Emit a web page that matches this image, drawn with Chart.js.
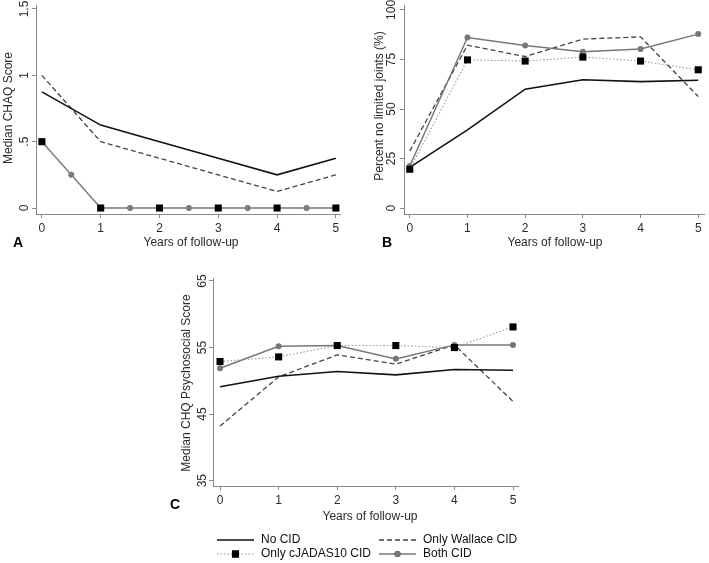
<!DOCTYPE html>
<html>
<head>
<meta charset="utf-8">
<script src="https://cdn.jsdelivr.net/npm/chart.js@4.4.1/dist/chart.umd.min.js"></script>
<style>
  body { margin: 0; background: #fff; }
  #wrap { position: relative; width: 709px; height: 563px; }
  canvas { position: absolute; }
</style>
</head>
<body>
<div id="wrap">
  <canvas id="chartA" width="345" height="255" style="left:0px;top:0px"></canvas>
  <canvas id="chartB" width="354" height="255" style="left:355px;top:0px"></canvas>
  <canvas id="chartC" width="400" height="305" style="left:150px;top:258px"></canvas>
</div>
<script>
// years of follow-up
const years = [0, 1, 2, 3, 4, 5];
const halfYears = [0, 0.5, 1, 1.5, 2, 2.5, 3, 3.5, 4, 4.5, 5];
const seriesNames = ["No CID", "Only Wallace CID", "Only cJADAS10 CID", "Both CID"];

// A: median CHAQ score
const chaqNoCid = [0.875, 0.625, 0.5, 0.375, 0.25, 0.375];
const chaqWallace = [1.0, 0.5, 0.375, 0.25, 0.125, 0.25];
const chaqJadas = [0.5, 0, 0, 0, 0, 0];
const chaqBoth = [0.5, 0.25, 0, 0, 0, 0, 0, 0, 0, 0, 0]; // half-yearly
const chaqTicks = [0, 0.5, 1, 1.5];
const chaqTickLabels = ["0", ".5", "1", "1.5"];

// B: percent no limited joints
const jointsNoCid = [20.5, 39.5, 60.0, 64.8, 63.8, 64.5];
const jointsWallace = [28.8, 82.2, 76.5, 85.3, 86.4, 56.3];
const jointsJadas = [19.6, 74.8, 74.2, 76.2, 74.2, 69.8];
const jointsBoth = [21.2, 86.1, 82.1, 78.9, 80.3, 87.8];
const jointsTicks = [0, 25, 50, 75, 100];
const jointsTickLabels = ["0", "25", "50", "75", "100"];

// C: median CHQ psychosocial score
const chqNoCid = [49.1, 50.7, 51.4, 50.9, 51.7, 51.6];
const chqWallace = [43.2, 50.6, 53.9, 52.5, 55.4, 46.9];
const chqJadas = [52.9, 53.6, 55.3, 55.3, 55.0, 58.1];
const chqBoth = [51.9, 55.2, 55.3, 53.3, 55.4, 55.4];
const chqTicks = [35, 45, 55, 65];
const chqTickLabels = ["35", "45", "55", "65"];

Chart.defaults.font.family = "'Liberation Sans', Arial, sans-serif";
Chart.defaults.font.size = 12;
Chart.defaults.color = "#2a2a2a";

const axisGray = "#8a8a8a";

const styles = [
  { borderColor: "#111", borderWidth: 1.6, pointRadius: 0, order: 2 },
  { borderColor: "#444", borderWidth: 1.3, borderDash: [5, 3], pointRadius: 0, order: 3 },
  { borderColor: "#999", borderWidth: 1.1, borderDash: [1.5, 2], pointStyle: "rect",
    pointRadius: 5, pointBackgroundColor: "#000", pointBorderWidth: 0, order: 0 },
  { borderColor: "#777", borderWidth: 1.5, pointStyle: "circle",
    pointRadius: 3, pointBackgroundColor: "#777", pointBorderWidth: 0, order: 1 }
];

const toPoints = (xs, ys) => xs.map((x, i) => ({ x: x, y: ys[i] }));

const makeDatasets = (list) => list.map((pts, i) => Object.assign({
  label: seriesNames[i],
  data: pts,
  fill: false,
  tension: 0,
  clip: false
}, styles[i]));

// text around each panel, rotated y tick labels like the original
const panelText = {
  id: "panelText",
  afterDraw(chart, args, o) {
    const ctx = chart.ctx;
    const y = chart.scales.y;
    ctx.save();
    ctx.fillStyle = "#2a2a2a";
    ctx.font = "12px 'Liberation Sans', Arial, sans-serif";
    ctx.textAlign = "center";
    ctx.textBaseline = "middle";
    o.yTicks.forEach((v, i) => {
      ctx.save();
      ctx.translate(o.yLabelX, y.getPixelForValue(v));
      ctx.rotate(-Math.PI / 2);
      ctx.fillText(o.yTickLabels[i], 0, 0);
      ctx.restore();
    });
    ctx.save();
    ctx.translate(o.yTitleX, o.yTitleY);
    ctx.rotate(-Math.PI / 2);
    ctx.fillText(o.yTitle, 0, 0);
    ctx.restore();
    ctx.fillText("Years of follow-up", o.xTitleX, o.xTitleY);
    ctx.font = "bold 14px 'Liberation Sans', Arial, sans-serif";
    ctx.textAlign = "left";
    ctx.fillStyle = "#000";
    ctx.fillText(o.letter, o.letterX, o.letterY);
    ctx.restore();
  }
};

// two-column legend under panel C
const legendBox = {
  id: "legendBox",
  afterDraw(chart, args, o) {
    if (!o.items) return;
    const ctx = chart.ctx;
    ctx.save();
    o.items.forEach((it) => {
      const ds = chart.data.datasets[it.index];
      ctx.strokeStyle = ds.borderColor;
      ctx.lineWidth = ds.borderWidth;
      ctx.setLineDash(ds.borderDash || []);
      ctx.beginPath();
      ctx.moveTo(it.x, it.y);
      ctx.lineTo(it.x + 37, it.y);
      ctx.stroke();
      ctx.setLineDash([]);
      if (ds.pointRadius > 0) {
        Chart.helpers.drawPoint(ctx, {
          pointStyle: ds.pointStyle, radius: ds.pointRadius, borderWidth: 0
        }, it.x + 18.5, it.y);
        ctx.fillStyle = ds.pointBackgroundColor;
        ctx.fill();
      }
      ctx.fillStyle = "#111";
      ctx.font = "12px 'Liberation Sans', Arial, sans-serif";
      ctx.textAlign = "left";
      ctx.textBaseline = "middle";
      ctx.fillText(ds.label, it.x + 44, it.y);
    });
    ctx.restore();
  }
};

function makeChart(id, datasets, cfg) {
  return new Chart(document.getElementById(id), {
    type: "line",
    data: { datasets: datasets },
    options: {
      responsive: false,
      animation: false,
      events: [],
      layout: { padding: { left: 0, top: cfg.top, right: cfg.right, bottom: 0 } },
      scales: {
        x: {
          type: "linear",
          min: cfg.xMin,
          max: cfg.xMax,
          afterBuildTicks: (s) => { s.ticks = years.map((v) => ({ value: v })); },
          afterFit: (s) => { s.height = cfg.xHeight; },
          ticks: { padding: 3, callback: (v) => String(v), maxRotation: 0, autoSkip: false },
          grid: { drawOnChartArea: false, drawTicks: true, tickLength: 4, color: axisGray },
          border: { color: axisGray, width: 1 }
        },
        y: {
          min: cfg.yMin,
          max: cfg.yMax,
          afterBuildTicks: (s) => { s.ticks = cfg.yTicks.map((v) => ({ value: v })); },
          afterFit: (s) => { s.width = cfg.yWidth; },
          ticks: { display: false },
          grid: { drawOnChartArea: false, drawTicks: true, tickLength: 4, color: axisGray },
          border: { color: axisGray, width: 1 }
        }
      },
      plugins: {
        legend: { display: false },
        tooltip: { enabled: false },
        panelText: cfg.text,
        legendBox: cfg.legend || {}
      }
    },
    plugins: [panelText, legendBox]
  });
}

makeChart("chartA", makeDatasets([
  toPoints(years, chaqNoCid),
  toPoints(years, chaqWallace),
  toPoints(years, chaqJadas),
  toPoints(halfYears, chaqBoth)
]), {
  top: 5, right: 5, xHeight: 41, yWidth: 36,
  xMin: -0.1, xMax: 5.07, yMin: -0.045, yMax: 1.53, yTicks: chaqTicks,
  text: {
    yTicks: chaqTicks, yTickLabels: chaqTickLabels, yLabelX: 25,
    yTitle: "Median CHAQ Score", yTitleX: 9, yTitleY: 108,
    xTitleX: 191, xTitleY: 243, letter: "A", letterX: 13, letterY: 243
  }
});

makeChart("chartB", makeDatasets([
  toPoints(years, jointsNoCid),
  toPoints(years, jointsWallace),
  toPoints(years, jointsJadas),
  toPoints(years, jointsBoth)
]), {
  top: 5, right: 0, xHeight: 41, yWidth: 49,
  xMin: -0.1, xMax: 5.1, yMin: -3, yMax: 102.5, yTicks: jointsTicks,
  text: {
    yTicks: jointsTicks, yTickLabels: jointsTickLabels, yLabelX: 37,
    yTitle: "Percent no limited joints (%)", yTitleX: 25, yTitleY: 106,
    xTitleX: 200, xTitleY: 243, letter: "B", letterX: 27, letterY: 243
  }
});

makeChart("chartC", makeDatasets([
  toPoints(years, chqNoCid),
  toPoints(years, chqWallace),
  toPoints(years, chqJadas),
  toPoints(years, chqBoth)
]), {
  top: 20, right: 32, xHeight: 77, yWidth: 63,
  xMin: -0.12, xMax: 5.085, yMin: 34.2, yMax: 65.45, yTicks: chqTicks,
  text: {
    yTicks: chqTicks, yTickLabels: chqTickLabels, yLabelX: 53,
    yTitle: "Median CHQ Psychosocial Score", yTitleX: 37, yTitleY: 125,
    xTitleX: 220, xTitleY: 259, letter: "C", letterX: 20, letterY: 247
  },
  legend: {
    items: [
      { index: 0, x: 67, y: 282 },
      { index: 1, x: 229, y: 282 },
      { index: 2, x: 67, y: 296 },
      { index: 3, x: 229, y: 296 }
    ]
  }
});
</script>
</body>
</html>
